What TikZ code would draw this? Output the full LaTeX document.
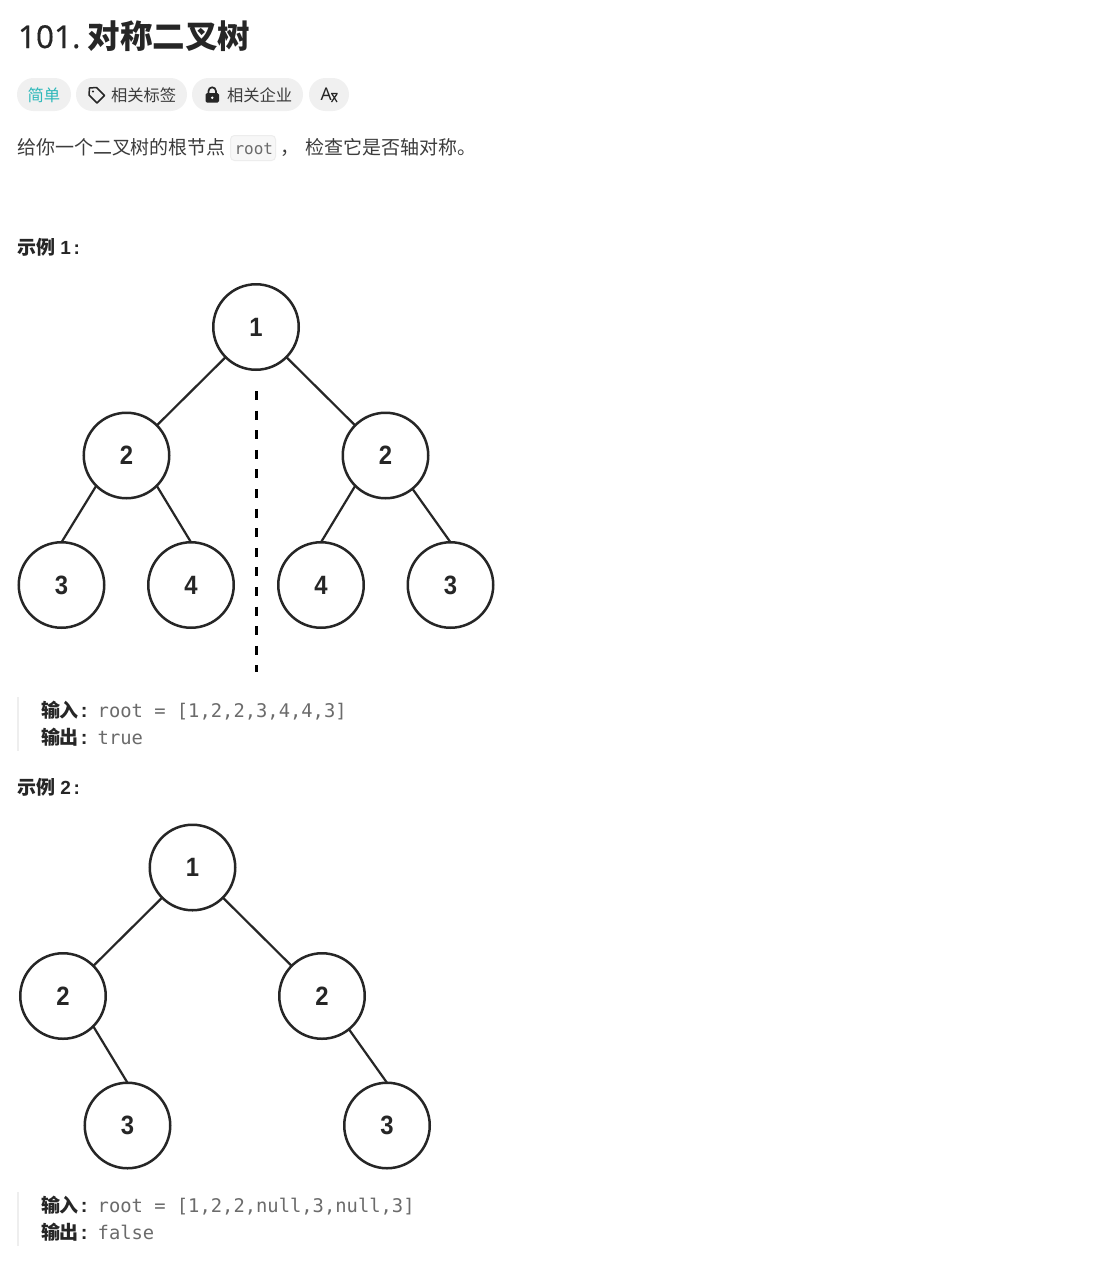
\documentclass[tikz,border=0pt]{standalone}
\usepackage{fontspec}
\setmainfont{Noto Sans}
\newfontfamily\cjk{Noto Sans CJK SC}
\newfontfamily\arialf{Liberation Sans}
\newfontfamily\digitf[FakeStretch=0.9]{Liberation Sans}
\newfontfamily\monof{DejaVu Sans Mono}
\newfontfamily\titlef[FakeBold=0.25]{Noto Sans}
\definecolor{ink}{HTML}{262626}
\definecolor{body}{HTML}{3C3C3C}
\definecolor{pill}{HTML}{F0F0F0}
\definecolor{teal}{HTML}{2DB8BA}
\definecolor{codec}{HTML}{6B6B6B}
\definecolor{bar}{HTML}{EEEEEE}
\newcommand{\exnum}[1]{\hspace{5.5pt}{\arialf\bfseries #1}\hspace{2.5pt}{\arialf\bfseries :}}
\newcommand{\excolon}{\hspace{1.8pt}{\arialf\bfseries\fontsize{20}{20}\selectfont :}}
\tikzset{
  txt/.style={inner sep=0,outer sep=0,anchor=base west},
  pillbox/.style={fill=pill,rounded corners=16.5pt,draw=none},
  treenode/.style={circle,draw=ink,line width=2.5pt,minimum size=85.5pt,inner sep=0,outer sep=0,fill=white,font=\digitf\bfseries\fontsize{26.5}{26.5}\selectfont,text=ink},
  treeedge/.style={draw=ink,line width=2.2pt},
  bodytxt/.style={txt,text=body,font=\cjk\fontsize{19}{19}\selectfont},
  tagtxt/.style={txt,text=body,font=\cjk\fontsize{16.3}{17}\selectfont},
  headtxt/.style={txt,text=ink,font=\cjk\bfseries\fontsize{19}{19}\selectfont},
  codetxt/.style={txt,text=codec,font=\monof\fontsize{18.8}{19}\selectfont},
  quotebar/.style={fill=bar,draw=none}
}
\begin{document}
\begin{tikzpicture}[x=1pt,y=-1pt]
\fill[white] (0,0) rectangle (1113,1270);
\useasboundingbox (0,0) rectangle (1113,1270);
% title
\node[txt,text=ink,font=\titlef\fontsize{31.5}{32}\selectfont] (t1) at (18,48) {101.};
\node[txt,text=ink,font=\cjk\bfseries\fontsize{32.5}{33}\selectfont] (t2) at (87.5,48.5) {对称二叉树};
% pills
\fill[pillbox] (17,78) rectangle (71,111);
\fill[pillbox] (76,78) rectangle (187,111);
\fill[pillbox] (192,78) rectangle (303,111);
\fill[pillbox] (309,78) rectangle (349,111);
\node[tagtxt,text=teal] (p1) at (27.5,101) {简单};
\node[tagtxt] (p2) at (111,101) {相关标签};
\node[tagtxt] (p3) at (227,101) {相关企业};
% tag icon
\draw[ink,line width=1.5pt,line join=round] (89.5,88) -- (96.5,87.5) -- (104.5,95.5) -- (97,103) -- (89,95) -- cycle;
\fill[ink] (93,91.5) circle (1.2pt);
% lock icon
\fill[ink,rounded corners=1.5pt] (205.5,93) rectangle (219,102.5);
\draw[ink,line width=1.7pt] (208.5,93.5) -- (208.5,91) arc[start angle=180,end angle=0,radius=3.7pt] -- (216,93.5);
\fill[white] (212.2,97.7) circle (1.4pt);
% translate icon
\node[txt,text=ink,font=\fontsize{17.5}{17}\selectfont] (p4a) at (320.5,100) {A};
\draw[ink,line width=1.2pt] (331,93.5) -- (337.5,93.5) (332,94) -- (337,102) (337,94) -- (331.5,102);
% description
\node[bodytxt] (d1) at (17,154) {给你一个二叉树的根节点};
\draw[fill=black!3,draw=black!7,line width=1pt,rounded corners=4pt] (230.5,135.5) rectangle (275.5,160.5);
\node[txt,text=codec,font=\monof\fontsize{16}{16}\selectfont] (d2) at (234.5,154) {root};
\node[bodytxt] (d3) at (280,154) {，};
\node[bodytxt] (d4) at (305,154) {检查它是否轴对称。};
% example 1
\node[headtxt] (h1) at (17,254) {示例\exnum{1}};
\node[treenode] (a1) at (256,327) {1};
\node[treenode] (a2) at (126.5,455.5) {2};
\node[treenode] (a3) at (385.5,455.5) {2};
\node[treenode] (a4) at (61.5,585) {3};
\node[treenode] (a5) at (191,585) {4};
\node[treenode] (a6) at (321,585) {4};
\node[treenode] (a7) at (450.5,585) {3};
\draw[treeedge] (a1) -- (a2);
\draw[treeedge] (a1) -- (a3);
\draw[treeedge] (a2.225) -- (a4.north);
\draw[treeedge] (a2.315) -- (a5.north);
\draw[treeedge] (a3.225) -- (a6.north);
\draw[treeedge] (a3.309) -- (a7.north);
\coordinate (m1) at (256.5,391);
\coordinate (m2) at (256.5,672);
\draw[black,line width=3.2pt,dash pattern=on 9pt off 10.6pt] (m1) -- (m2);
\fill[quotebar] (17,697) rectangle (19,751);
\node[headtxt] (q1) at (41,717) {输入\excolon};
\node[codetxt] (q2) at (97.7,717) {root = [1,2,2,3,4,4,3]};
\node[headtxt] (q3) at (41,744) {输出\excolon};
\node[codetxt] (q4) at (97.7,744) {true};
% example 2
\node[headtxt] (h2) at (17,794) {示例\exnum{2}};
\node[treenode] (b1) at (192.5,867.5) {1};
\node[treenode] (b2) at (63,996) {2};
\node[treenode] (b3) at (322,996) {2};
\node[treenode] (b4) at (127.5,1125.5) {3};
\node[treenode] (b5) at (387,1125.5) {3};
\draw[treeedge] (b1) -- (b2);
\draw[treeedge] (b1) -- (b3);
\draw[treeedge] (b2.315) -- (b4.north);
\draw[treeedge] (b3.309) -- (b5.north);
\fill[quotebar] (17,1192) rectangle (19,1246);
\node[headtxt] (r1) at (41,1212) {输入\excolon};
\node[codetxt] (r2) at (97.7,1212) {root = [1,2,2,null,3,null,3]};
\node[headtxt] (r3) at (41,1239) {输出\excolon};
\node[codetxt] (r4) at (97.7,1239) {false};
\end{tikzpicture}
\end{document}
